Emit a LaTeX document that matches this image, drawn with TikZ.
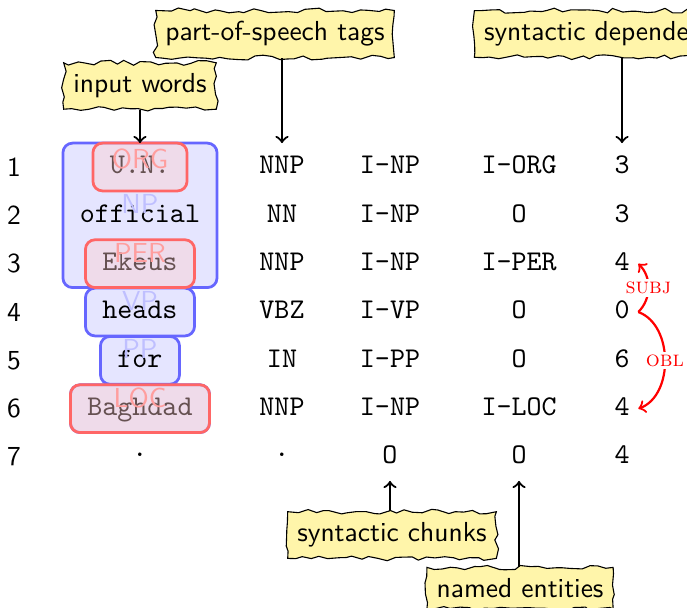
\documentclass[tikz,border=0pt]{standalone}
\usepackage{tikz}
\usepackage{xcolor}
\usetikzlibrary{fit,backgrounds,decorations.pathmorphing}

\definecolor{notefill}{RGB}{255,245,170}
\newcommand{\cellsize}{\fontsize{10.4pt}{12.5pt}\selectfont}

\tikzset{
  note/.style={draw, fill=notefill, font=\sffamily, inner xsep=3.5pt, inner ysep=4pt,
    decorate, decoration={random steps, segment length=3pt, amplitude=0.9pt}},
  cell/.style={font=\cellsize\ttfamily, text height=7pt, text depth=2pt,
    inner xsep=6pt, inner ysep=4pt},
  num/.style={font=\sffamily},
  chunkbox/.style={draw=blue!60, fill=blue!10, line width=1pt, rounded corners=3.5pt, inner sep=0pt},
  entbox/.style={draw=red!60, fill=red!20, fill opacity=0.4, line width=1pt, rounded corners=3.5pt, inner sep=0pt},
  chunktag/.style={font=\sffamily, text=blue!25},
  enttag/.style={font=\sffamily, text=red!50},
  rel/.style={fill=white, inner sep=1pt, font=\footnotesize\scshape, text=red}
}

\begin{document}
\begin{tikzpicture}
    \pgfmathsetseed{7}
    \useasboundingbox (-0.179, 2.136) rectangle (8.606, -5.627);
    \clip (-0.179, 2.136) rectangle (8.606, -5.627);

    % row numbers
    \node[num](n1) at (0, 0) {1};
    \node[num](n2) at (0, -0.618) {2};
    \node[num](n3) at (0, -1.236) {3};
    \node[num](n4) at (0, -1.854) {4};
    \node[num](n5) at (0, -2.472) {5};
    \node[num](n6) at (0, -3.090) {6};
    \node[num](n7) at (0, -3.708) {7};

    % words
    \node[cell](w1) at (1.611, 0) {U.N.};
    \node[cell](w2) at (1.611, -0.618) {official};
    \node[cell](w3) at (1.611, -1.236) {Ekeus};
    \node[cell](w4) at (1.611, -1.854) {heads};
    \node[cell](w5) at (1.611, -2.472) {for};
    \node[cell](w6) at (1.611, -3.090) {Baghdad};
    \node[cell](w7) at (1.611, -3.708) {·};

    % part of speech
    \node[cell](p1) at (3.427, 0) {NNP};
    \node[cell](p2) at (3.427, -0.618) {NN};
    \node[cell](p3) at (3.427, -1.236) {NNP};
    \node[cell](p4) at (3.427, -1.854) {VBZ};
    \node[cell](p5) at (3.427, -2.472) {IN};
    \node[cell](p6) at (3.427, -3.090) {NNP};
    \node[cell](p7) at (3.427, -3.708) {·};

    % chunks
    \node[cell](c1) at (4.808, 0) {I-NP};
    \node[cell](c2) at (4.808, -0.618) {I-NP};
    \node[cell](c3) at (4.808, -1.236) {I-NP};
    \node[cell](c4) at (4.808, -1.854) {I-VP};
    \node[cell](c5) at (4.808, -2.472) {I-PP};
    \node[cell](c6) at (4.808, -3.090) {I-NP};
    \node[cell](c7) at (4.808, -3.708) {O};

    % entities
    \node[cell](e1) at (6.458, 0) {I-ORG};
    \node[cell](e2) at (6.458, -0.618) {O};
    \node[cell](e3) at (6.458, -1.236) {I-PER};
    \node[cell](e4) at (6.458, -1.854) {O};
    \node[cell](e5) at (6.458, -2.472) {O};
    \node[cell](e6) at (6.458, -3.090) {I-LOC};
    \node[cell](e7) at (6.458, -3.708) {O};

    % heads
    \node[cell, inner xsep=3pt](d1) at (7.775, 0) {3};
    \node[cell, inner xsep=3pt](d2) at (7.775, -0.618) {3};
    \node[cell, inner xsep=3pt](d3) at (7.775, -1.236) {4};
    \node[cell, inner xsep=3pt](d4) at (7.775, -1.854) {0};
    \node[cell, inner xsep=3pt](d5) at (7.775, -2.472) {6};
    \node[cell, inner xsep=3pt](d6) at (7.775, -3.090) {4};
    \node[cell, inner xsep=3pt](d7) at (7.775, -3.708) {4};

    % chunk boxes behind the words
    \begin{scope}[on background layer]
      \node[chunkbox, fit=(w1)(w2)(w3)](np1) {};
      \node[chunkbox, fit=(w4)](vp) {};
      \node[chunkbox, fit=(w5)](pp) {};
      \node[chunkbox, fit=(w6)](np2) {};
    \end{scope}
    \node[chunktag] at ([yshift=4pt]np1.center) {NP};
    \node[chunktag] at ([yshift=4pt]vp.center) {VP};
    \node[chunktag] at ([yshift=4pt]pp.center) {PP};

    % entity boxes over the words
    \node[enttag] at ([yshift=3pt]w1.center) {ORG};
    \node[enttag] at ([yshift=4pt]w3.center) {PER};
    \node[enttag] at ([yshift=4pt]w6.center) {LOC};
    \node[entbox, fit=(w1)](org) {};
    \node[entbox, fit=(w3)](per) {};
    \node[entbox, fit=(w6)](loc) {};

    % dependencies
    \draw[->, red, thick] (d4.east) to[bend right=45] node[rel] {subj} (d3.east);
    \draw[->, red, thick] (d4.east) to[bend left=70] node[rel] {obl} (d6.east);

    % notes
    \node[note](words) at (1.611, 1.036) {input words};
    \node[note](tags) at (3.338, 1.701) {part-of-speech tags};
    \node[note, anchor=west](deps) at (5.88, 1.701) {syntactic dependencies};
    \node[note](chunks) at (4.834, -4.706) {syntactic chunks};
    \node[note](ents) at (6.471, -5.384) {named entities};

    \draw[->, thick] (words.south -| w1) -- (w1.north);
    \draw[->, thick] (tags.south -| p1) -- (p1);
    \draw[->, thick] (deps.south -| d1) -- (d1);
    \draw[->, thick] (chunks.north -| c7) -- (c7);
    \draw[->, thick] (ents.north -| e7) -- (e7);
\end{tikzpicture}
\end{document}
